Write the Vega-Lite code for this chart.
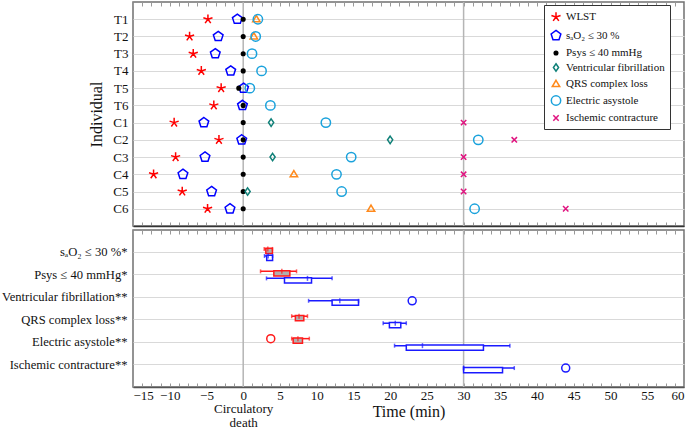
{
  "$schema": "https://vega.github.io/schema/vega-lite/v6.json",
  "padding": {"left": 0, "top": 0, "right": 5, "bottom": 0},
  "spacing": 0,
  "resolve": {"scale": {"color": "independent", "shape": "independent", "stroke": "independent", "fill": "independent"}, "legend": {"color": "independent", "shape": "independent"}},
  "config": {
    "font": "Liberation Serif",
    "view": {"stroke": "#707070", "strokeWidth": 1.5},
    "axis": {"labelFont": "Liberation Serif", "titleFont": "Liberation Serif", "labelFontSize": 13, "titleFontSize": 16, "titleFontWeight": "normal", "labelColor": "#111", "titleColor": "#111"},
    "legend": {"title": null, "orient": "none", "legendX": 411, "legendY": 3, "strokeColor": "#333", "fillColor": "white", "padding": 5, "labelFontSize": 11, "labelFont": "Liberation Serif", "labelColor": "#111", "rowPadding": 2.5, "symbolStrokeWidth": 1.5, "symbolSize": 144, "labelLimit": 250, "labelOffset": 3},
    "concat": {"spacing": 0}
  },
  "datasets": {
    "events": [
      {"ind": "T1", "e": "W", "t": -4.8}, {"ind": "T1", "e": "S", "t": -0.8}, {"ind": "T1", "e": "P", "t": 0}, {"ind": "T1", "e": "Q", "t": 1.8}, {"ind": "T1", "e": "E", "t": 2.0},
      {"ind": "T2", "e": "W", "t": -7.3}, {"ind": "T2", "e": "S", "t": -3.4}, {"ind": "T2", "e": "P", "t": 0}, {"ind": "T2", "e": "Q", "t": 1.45}, {"ind": "T2", "e": "E", "t": 1.7},
      {"ind": "T3", "e": "W", "t": -6.8}, {"ind": "T3", "e": "S", "t": -3.8}, {"ind": "T3", "e": "P", "t": 0}, {"ind": "T3", "e": "E", "t": 1.2},
      {"ind": "T4", "e": "W", "t": -5.7}, {"ind": "T4", "e": "S", "t": -1.7}, {"ind": "T4", "e": "P", "t": 0}, {"ind": "T4", "e": "E", "t": 2.5},
      {"ind": "T5", "e": "W", "t": -3.0}, {"ind": "T5", "e": "S", "t": 0.05}, {"ind": "T5", "e": "P", "t": -0.6}, {"ind": "T5", "e": "E", "t": 0.9},
      {"ind": "T6", "e": "W", "t": -4.0}, {"ind": "T6", "e": "S", "t": -0.1}, {"ind": "T6", "e": "P", "t": 0}, {"ind": "T6", "e": "E", "t": 3.7},
      {"ind": "C1", "e": "W", "t": -9.4}, {"ind": "C1", "e": "S", "t": -5.35}, {"ind": "C1", "e": "P", "t": 0}, {"ind": "C1", "e": "V", "t": 3.8}, {"ind": "C1", "e": "E", "t": 11.25}, {"ind": "C1", "e": "I", "t": 30},
      {"ind": "C2", "e": "W", "t": -3.3}, {"ind": "C2", "e": "S", "t": -0.2}, {"ind": "C2", "e": "P", "t": 0}, {"ind": "C2", "e": "V", "t": 20}, {"ind": "C2", "e": "E", "t": 32.0}, {"ind": "C2", "e": "I", "t": 36.9},
      {"ind": "C3", "e": "W", "t": -9.2}, {"ind": "C3", "e": "S", "t": -5.2}, {"ind": "C3", "e": "P", "t": 0}, {"ind": "C3", "e": "V", "t": 4.0}, {"ind": "C3", "e": "E", "t": 14.7}, {"ind": "C3", "e": "I", "t": 30},
      {"ind": "C4", "e": "W", "t": -12.2}, {"ind": "C4", "e": "S", "t": -8.2}, {"ind": "C4", "e": "P", "t": 0}, {"ind": "C4", "e": "Q", "t": 6.9}, {"ind": "C4", "e": "E", "t": 12.7}, {"ind": "C4", "e": "I", "t": 30},
      {"ind": "C5", "e": "W", "t": -8.3}, {"ind": "C5", "e": "S", "t": -4.3}, {"ind": "C5", "e": "P", "t": 0}, {"ind": "C5", "e": "V", "t": 0.6}, {"ind": "C5", "e": "E", "t": 13.4}, {"ind": "C5", "e": "I", "t": 30},
      {"ind": "C6", "e": "W", "t": -4.85}, {"ind": "C6", "e": "S", "t": -1.8}, {"ind": "C6", "e": "P", "t": 0}, {"ind": "C6", "e": "Q", "t": 17.4}, {"ind": "C6", "e": "E", "t": 31.5}, {"ind": "C6", "e": "I", "t": 43.9}
    ],
    "refs": [{"t": 0}, {"t": 30}],
    "boxes": [
      {"ev": "S", "g": "T", "lo": 2.86, "q1": 3.08, "med": 3.35, "q3": 3.98, "hi": 3.98},
      {"ev": "S", "g": "C", "lo": 2.9, "q1": 3.2, "med": 3.4, "q3": 4.0, "hi": 4.0},
      {"ev": "P", "g": "T", "lo": 2.36, "q1": 4.17, "med": 5.26, "q3": 6.35, "hi": 7.26},
      {"ev": "P", "g": "C", "lo": 3.17, "q1": 5.62, "med": 8.75, "q3": 9.3, "hi": 12.1},
      {"ev": "V", "g": "C", "lo": 8.9, "q1": 12.1, "med": 13.15, "q3": 15.7, "hi": 15.7},
      {"ev": "Q", "g": "T", "lo": 6.6, "q1": 7.1, "med": 7.6, "q3": 8.25, "hi": 8.75},
      {"ev": "Q", "g": "C", "lo": 19.05, "q1": 19.9, "med": 20.7, "q3": 21.45, "hi": 22.2},
      {"ev": "E", "g": "T", "lo": 6.6, "q1": 6.8, "med": 7.45, "q3": 8.07, "hi": 9.0},
      {"ev": "E", "g": "C", "lo": 20.6, "q1": 22.2, "med": 24.4, "q3": 32.7, "hi": 36.3},
      {"ev": "I", "g": "C", "lo": 30, "q1": 30, "med": 30, "q3": 35.3, "hi": 36.9}
    ],
    "outliers": [
      {"ev": "V", "g": "C", "v": 23.0},
      {"ev": "E", "g": "T", "v": 3.75},
      {"ev": "I", "g": "C", "v": 43.9}
    ]
  },
  "vconcat": [
    {
      "width": 551,
      "height": 224,
      "resolve": {"axis": {"x": "independent"}},
      "layer": [
        {
          "data": {"name": "refs"},
          "mark": {"type": "rule", "color": "#b5b5b5", "strokeWidth": 1.5},
          "encoding": {
            "x": {"field": "t", "type": "quantitative", "scale": {"domain": [-15, 60], "nice": false},
              "axis": {"orient": "top", "title": null, "labels": false, "grid": false, "domain": false,
                "values": [-15,-13.75,-12.5,-11.25,-10,-8.75,-7.5,-6.25,-5,-3.75,-2.5,-1.25,0,1.25,2.5,3.75,5,6.25,7.5,8.75,10,11.25,12.5,13.75,15,16.25,17.5,18.75,20,21.25,22.5,23.75,25,26.25,27.5,28.75,30,31.25,32.5,33.75,35,36.25,37.5,38.75,40,41.25,42.5,43.75,45,46.25,47.5,48.75,50,51.25,52.5,53.75,55,56.25,57.5,58.75,60],
                "tickColor": "#999", "tickSize": -4}}
          }
        },
        {
          "data": {"name": "events"},
          "mark": {"type": "point", "strokeWidth": 1.5, "opacity": 1, "size": 144, "filled": false},
          "encoding": {
            "x": {"field": "t", "type": "quantitative", "scale": {"domain": [-15, 60], "nice": false},
              "axis": {"orient": "bottom", "title": null, "labels": false, "grid": false, "domain": true, "domainColor": "#333", "domainWidth": 1.5,
                "values": [-15,-13.75,-12.5,-11.25,-10,-8.75,-7.5,-6.25,-5,-3.75,-2.5,-1.25,0,1.25,2.5,3.75,5,6.25,7.5,8.75,10,11.25,12.5,13.75,15,16.25,17.5,18.75,20,21.25,22.5,23.75,25,26.25,27.5,28.75,30,31.25,32.5,33.75,35,36.25,37.5,38.75,40,41.25,42.5,43.75,45,46.25,47.5,48.75,50,51.25,52.5,53.75,55,56.25,57.5,58.75,60],
                "tickColor": "#999", "tickSize": -4}},
            "y": {"field": "ind", "type": "ordinal", "scale": {"type": "point", "padding": 1, "domain": ["T1","T2","T3","T4","T5","T6","C1","C2","C3","C4","C5","C6"]},
              "axis": {"title": "Individual", "titleFontSize": 16, "titlePadding": 8, "grid": true, "gridColor": "#d9d9d9", "ticks": false, "domain": false, "labelPadding": 5}},
            "shape": {"field": "e", "type": "nominal", "scale": {"domain": ["W","S","P","V","Q","E","I"],
              "range": ["M0,0L0,-0.8M0,0L0.761,-0.247M0,0L0.47,0.647M0,0L-0.47,0.647M0,0L-0.761,-0.247",
                        "M0,-0.85L0.808,-0.263L0.5,0.688L-0.5,0.688L-0.808,-0.263Z",
                        "M0.3,0A0.3,0.3,0,1,1,-0.3,0A0.3,0.3,0,1,1,0.3,0ZM0.12,0A0.12,0.12,0,1,1,-0.12,0A0.12,0.12,0,1,1,0.12,0Z",
                        "M0,-0.62L0.43,0L0,0.62L-0.43,0Z",
                        "M0,-0.62L0.62,0.42L-0.62,0.42Z",
                        "M0.78,0A0.78,0.78,0,1,1,-0.78,0A0.78,0.78,0,1,1,0.78,0Z",
                        "M-0.45,-0.45L0.45,0.45M-0.45,0.45L0.45,-0.45"]},
              "legend": {"labelExpr": "{'W':'WLST','S':'sₐO₂ ≤ 30 %','P':'Psys ≤ 40 mmHg','V':'Ventricular fibrillation','Q':'QRS complex loss','E':'Electric asystole','I':'Ischemic contracture'}[datum.label]"}},
            "color": {"field": "e", "type": "nominal", "scale": {"domain": ["W","S","P","V","Q","E","I"], "range": ["#ff0000","#0000ff","#000000","#0f8078","#ff8a1c","#1aa2dc","#e0137f"]},
              "legend": {"labelExpr": "{'W':'WLST','S':'sₐO₂ ≤ 30 %','P':'Psys ≤ 40 mmHg','V':'Ventricular fibrillation','Q':'QRS complex loss','E':'Electric asystole','I':'Ischemic contracture'}[datum.label]"}}
          }
        }
      ]
    },
    {
      "width": 551,
      "height": 157,
      "resolve": {"axis": {"x": "independent"}},
      "layer": [
        {
          "data": {"name": "refs"},
          "mark": {"type": "rule", "color": "#b5b5b5", "strokeWidth": 1.5},
          "encoding": {
            "x": {"field": "t", "type": "quantitative", "scale": {"domain": [-15, 60], "nice": false},
              "axis": {"orient": "top", "title": null, "labels": false, "grid": false, "domain": false,
                "values": [-15,-13.75,-12.5,-11.25,-10,-8.75,-7.5,-6.25,-5,-3.75,-2.5,-1.25,0,1.25,2.5,3.75,5,6.25,7.5,8.75,10,11.25,12.5,13.75,15,16.25,17.5,18.75,20,21.25,22.5,23.75,25,26.25,27.5,28.75,30,31.25,32.5,33.75,35,36.25,37.5,38.75,40,41.25,42.5,43.75,45,46.25,47.5,48.75,50,51.25,52.5,53.75,55,56.25,57.5,58.75,60],
                "tickColor": "#999", "tickSize": -4}}
          }
        },
        {
          "data": {"name": "boxes"},
          "mark": {"type": "rule", "strokeWidth": 1.5},
          "encoding": {
            "x": {"field": "lo", "type": "quantitative", "scale": {"domain": [-15, 60], "nice": false},
              "title": "Time (min)",
              "axis": {"orient": "bottom", "grid": false, "domain": true, "domainColor": "#555", "domainWidth": 1.5,
                "values": [-15,-13.75,-12.5,-11.25,-10,-8.75,-7.5,-6.25,-5,-3.75,-2.5,-1.25,0,1.25,2.5,3.75,5,6.25,7.5,8.75,10,11.25,12.5,13.75,15,16.25,17.5,18.75,20,21.25,22.5,23.75,25,26.25,27.5,28.75,30,31.25,32.5,33.75,35,36.25,37.5,38.75,40,41.25,42.5,43.75,45,46.25,47.5,48.75,50,51.25,52.5,53.75,55,56.25,57.5,58.75,60],
                "tickColor": "#999", "tickSize": -4,
                "labelOverlap": false, "labelPadding": 6, "labelLineHeight": 13.5, "labelBaseline": "top",
                "labelExpr": "datum.value === 0 ? ['0', 'Circulatory', 'death'] : (datum.value % 5 === 0 ? datum.label : '')",
                "titleFontSize": 16, "titleY": 24, "titleBaseline": "middle"}},
            "x2": {"field": "hi"},
            "y": {"field": "ev", "type": "nominal", "scale": {"type": "band", "domain": ["S","P","V","Q","E","I"], "paddingInner": 0, "paddingOuter": 0.5},
              "axis": {"title": null, "grid": true, "gridColor": "#d9d9d9", "bandPosition": 0.5, "ticks": false, "domain": false, "labelPadding": 6, "labelLimit": 300, "labelFontSize": 12.6,
                "labelExpr": "{'S':'sₐO₂ ≤ 30 %*','P':'Psys ≤ 40 mmHg*','V':'Ventricular fibrillation**','Q':'QRS complex loss**','E':'Electric asystole**','I':'Ischemic contracture**'}[datum.label]"}},
            "yOffset": {"field": "g", "type": "nominal", "scale": {"domain": ["T","C"], "paddingInner": 0, "paddingOuter": 0.6}},
            "color": {"field": "g", "type": "nominal", "scale": {"domain": ["T","C"], "range": ["#ff1a1a","#1a1aff"]}, "legend": null}
          }
        },
        {
          "data": {"name": "boxes"},
          "mark": {"type": "bar", "strokeWidth": 1.5, "height": {"band": 0.75}},
          "encoding": {
            "x": {"field": "q1", "type": "quantitative", "scale": {"domain": [-15, 60], "nice": false}, "axis": null},
            "x2": {"field": "q3"},
            "y": {"field": "ev", "type": "nominal", "scale": {"type": "band", "domain": ["S","P","V","Q","E","I"], "paddingInner": 0, "paddingOuter": 0.5}},
            "yOffset": {"field": "g", "type": "nominal", "scale": {"domain": ["T","C"], "paddingInner": 0, "paddingOuter": 0.6}},
            "stroke": {"field": "g", "type": "nominal", "scale": {"domain": ["T","C"], "range": ["#ff1a1a","#1a1aff"]}, "legend": null},
            "fill": {"field": "g", "type": "nominal", "scale": {"domain": ["T","C"], "range": ["#b0b0b0","#ffffff"]}, "legend": null}
          }
        },
        {
          "data": {"name": "boxes"},
          "mark": {"type": "tick", "thickness": 1.5, "size": 5},
          "encoding": {
            "x": {"field": "med", "type": "quantitative", "scale": {"domain": [-15, 60], "nice": false}, "axis": null},
            "y": {"field": "ev", "type": "nominal", "scale": {"type": "band", "domain": ["S","P","V","Q","E","I"], "paddingInner": 0, "paddingOuter": 0.5}},
            "yOffset": {"field": "g", "type": "nominal", "scale": {"domain": ["T","C"], "paddingInner": 0, "paddingOuter": 0.6}},
            "color": {"field": "g", "type": "nominal", "scale": {"domain": ["T","C"], "range": ["#ff1a1a","#1a1aff"]}, "legend": null}
          }
        },
        {
          "data": {"name": "boxes"},
          "mark": {"type": "tick", "thickness": 1.5, "size": 4},
          "encoding": {
            "x": {"field": "lo", "type": "quantitative", "scale": {"domain": [-15, 60], "nice": false}, "axis": null},
            "y": {"field": "ev", "type": "nominal", "scale": {"type": "band", "domain": ["S","P","V","Q","E","I"], "paddingInner": 0, "paddingOuter": 0.5}},
            "yOffset": {"field": "g", "type": "nominal", "scale": {"domain": ["T","C"], "paddingInner": 0, "paddingOuter": 0.6}},
            "color": {"field": "g", "type": "nominal", "scale": {"domain": ["T","C"], "range": ["#ff1a1a","#1a1aff"]}, "legend": null}
          }
        },
        {
          "data": {"name": "boxes"},
          "mark": {"type": "tick", "thickness": 1.5, "size": 4},
          "encoding": {
            "x": {"field": "hi", "type": "quantitative", "scale": {"domain": [-15, 60], "nice": false}, "axis": null},
            "y": {"field": "ev", "type": "nominal", "scale": {"type": "band", "domain": ["S","P","V","Q","E","I"], "paddingInner": 0, "paddingOuter": 0.5}},
            "yOffset": {"field": "g", "type": "nominal", "scale": {"domain": ["T","C"], "paddingInner": 0, "paddingOuter": 0.6}},
            "color": {"field": "g", "type": "nominal", "scale": {"domain": ["T","C"], "range": ["#ff1a1a","#1a1aff"]}, "legend": null}
          }
        },
        {
          "data": {"name": "outliers"},
          "mark": {"type": "point", "shape": "circle", "filled": false, "strokeWidth": 1.5, "size": 64, "opacity": 1},
          "encoding": {
            "x": {"field": "v", "type": "quantitative", "scale": {"domain": [-15, 60], "nice": false}, "axis": null},
            "y": {"field": "ev", "type": "nominal", "scale": {"type": "band", "domain": ["S","P","V","Q","E","I"], "paddingInner": 0, "paddingOuter": 0.5}},
            "yOffset": {"field": "g", "type": "nominal", "scale": {"domain": ["T","C"], "paddingInner": 0, "paddingOuter": 0.6}},
            "color": {"field": "g", "type": "nominal", "scale": {"domain": ["T","C"], "range": ["#ff1a1a","#1a1aff"]}, "legend": null}
          }
        }
      ]
    }
  ]
}
